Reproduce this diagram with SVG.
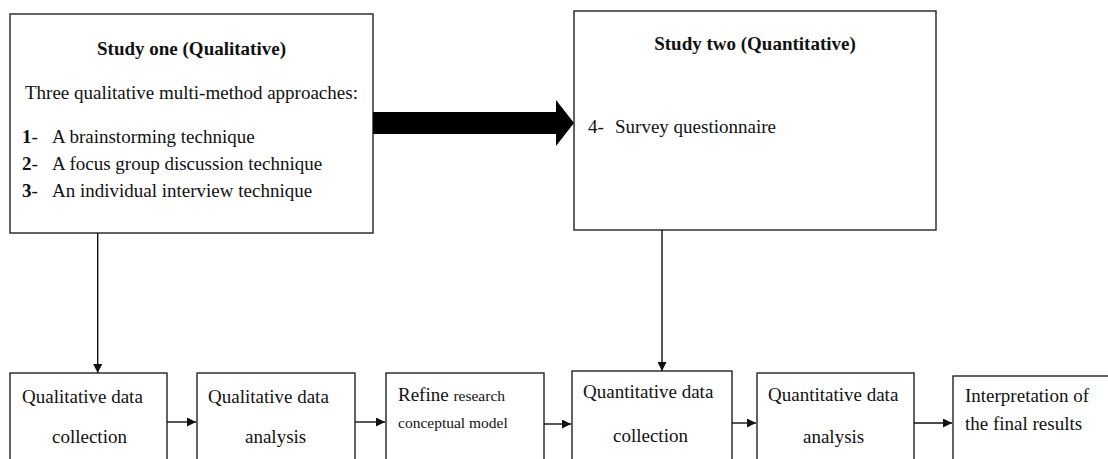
<svg xmlns="http://www.w3.org/2000/svg" width="1108" height="459" viewBox="0 0 1108 459">
  <style>
    .box { fill: #ffffff; stroke: #222222; stroke-width: 1.4; }
    .t { font-family: "Liberation Serif", "Times New Roman", serif; font-size: 19px; fill: #111111; }
    .b { font-weight: bold; }
    .sm { font-size: 15.5px; }
    .ln { stroke: #111111; stroke-width: 1.4; fill: none; }
  </style>
  <defs>
    <marker id="ah" viewBox="0 0 10 10" refX="10" refY="5" markerWidth="9" markerHeight="9" markerUnits="userSpaceOnUse" orient="auto">
      <path d="M0,0 L10,5 L0,10 z" fill="#111111"/>
    </marker>
  </defs>
  <rect width="1108" height="459" fill="#ffffff"/>

  <g id="study-one">
    <rect class="box" x="10" y="14" width="363" height="219"/>
    <text class="t b" x="191.5" y="55" text-anchor="middle">Study one (Qualitative)</text>
    <text class="t" x="25" y="99">Three qualitative multi-method approaches:</text>
    <text class="t" x="22" y="143"><tspan class="b">1</tspan>-</text>
    <text class="t" x="52" y="143">A brainstorming technique</text>
    <text class="t" x="22" y="170"><tspan class="b">2</tspan>-</text>
    <text class="t" x="52" y="170">A focus group discussion technique</text>
    <text class="t" x="22" y="197"><tspan class="b">3</tspan>-</text>
    <text class="t" x="52" y="197">An individual interview technique</text>
  </g>

  <g id="study-two">
    <rect class="box" x="574" y="11" width="362" height="219"/>
    <text class="t b" x="755" y="50" text-anchor="middle">Study two (Quantitative)</text>
    <text class="t" x="588" y="133">4-</text>
    <text class="t" x="615" y="133">Survey questionnaire</text>
  </g>

  <g id="qual-collection">
    <rect class="box" x="10" y="373" width="157" height="100"/>
    <text class="t" x="22" y="403">Qualitative data</text>
    <text class="t" x="52" y="443">collection</text>
  </g>

  <g id="qual-analysis">
    <rect class="box" x="197" y="373" width="158" height="100"/>
    <text class="t" x="208" y="403">Qualitative data</text>
    <text class="t" x="245" y="443">analysis</text>
  </g>

  <g id="refine-model">
    <rect class="box" x="386" y="373" width="158" height="100"/>
    <text class="t" x="398" y="401">Refine <tspan class="sm">research</tspan></text>
    <text class="t sm" x="398" y="428">conceptual model</text>
  </g>

  <g id="quant-collection">
    <rect class="box" x="572" y="371" width="160" height="100"/>
    <text class="t" x="583" y="398">Quantitative data</text>
    <text class="t" x="613" y="442">collection</text>
  </g>

  <g id="quant-analysis">
    <rect class="box" x="757" y="373" width="157" height="100"/>
    <text class="t" x="768" y="401">Quantitative data</text>
    <text class="t" x="803" y="443">analysis</text>
  </g>

  <g id="interpretation">
    <rect class="box" x="953" y="376" width="170" height="100"/>
    <text class="t" x="965" y="402">Interpretation of</text>
    <text class="t" x="965" y="430">the final results</text>
  </g>

  <g id="connectors">
    <!-- thick block arrow between the two studies -->
    <path d="M373,112 L556,112 L556,100 L574,123 L556,146 L556,134 L373,134 z" fill="#000000"/>
    <line class="ln" x1="97.7" y1="233" x2="97.7" y2="373" marker-end="url(#ah)"/>
    <line class="ln" x1="662" y1="230" x2="662" y2="371" marker-end="url(#ah)"/>
    <line class="ln" x1="167" y1="422" x2="196" y2="422" marker-end="url(#ah)"/>
    <line class="ln" x1="355" y1="422" x2="385" y2="422" marker-end="url(#ah)"/>
    <line class="ln" x1="544" y1="424" x2="571" y2="424" marker-end="url(#ah)"/>
    <line class="ln" x1="732" y1="423" x2="756" y2="423" marker-end="url(#ah)"/>
    <line class="ln" x1="914" y1="423" x2="952" y2="423" marker-end="url(#ah)"/>
  </g>
</svg>
